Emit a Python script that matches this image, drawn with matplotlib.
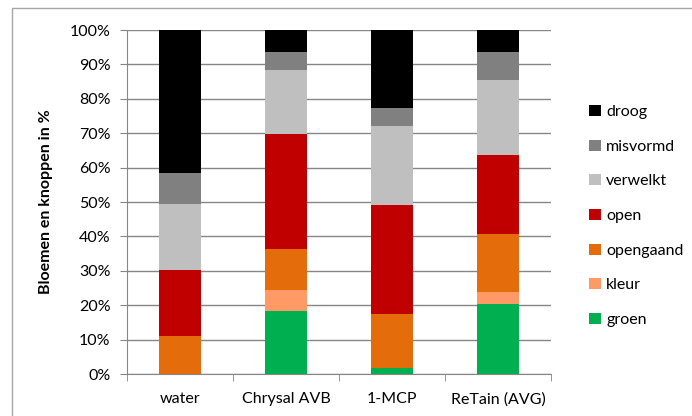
import numpy as np
import matplotlib.pyplot as plt
from matplotlib.patches import Rectangle, Patch

# data (percentage of flowers/buds per stage)
categories = ["water", "Chrysal AVB", "1-MCP", "ReTain (AVG)"]
stages = ["groen", "kleur", "opengaand", "open", "verwelkt", "misvormd", "droog"]
groen = [0.0, 18.2, 1.6, 20.3]
kleur = [0.0, 6.2, 0.0, 3.5]
opengaand = [11.0, 11.9, 15.8, 16.9]
open_ = [19.2, 33.4, 31.6, 23.1]
verwelkt = [19.2, 18.7, 23.1, 21.6]
misvormd = [9.1, 5.1, 5.3, 8.2]
droog = [41.5, 6.5, 22.6, 6.4]
colors = ["#00b050", "#ff9966", "#e46c0a", "#c00000", "#bfbfbf", "#808080", "#000000"]

plt.rcParams['font.family'] = ["Lato", "DejaVu Sans"]
plt.rcParams['font.size'] = 11.5

fig = plt.figure(figsize=(6.92, 4.16), dpi=100)
ax = fig.add_axes([127 / 692, 1 - 374 / 416, 424 / 692, 344 / 416])

series = [groen, kleur, opengaand, open_, verwelkt, misvormd, droog]
x = np.arange(len(categories))
bottom = np.zeros(len(categories))
for vals, col, name in zip(series, colors, stages):
    ax.bar(x, vals, width=0.4, bottom=bottom, color=col, label=name, zorder=3)
    bottom += np.array(vals)

ax.set_xlim(-0.5, 3.5)
ax.set_ylim(0, 100)
ax.set_yticks(np.arange(0, 101, 10))
ax.set_yticklabels(["%d%%" % v for v in range(0, 101, 10)])
ax.yaxis.grid(True, color="#868686", lw=1, zorder=0)
ax.set_xticks(x)
ax.set_xticklabels(categories)
ax.set_xticks(np.arange(-0.5, 4, 1), minor=True)
ax.tick_params(axis="x", which="major", length=0, pad=13)
ax.tick_params(axis="x", which="minor", length=5, color="#868686")
ax.tick_params(axis="y", length=5, color="#868686", pad=7)
for s in ["top", "right"]:
    ax.spines[s].set_visible(False)
for s in ["left", "bottom"]:
    ax.spines[s].set_color("#868686")
ax.set_ylabel("Bloemen en knoppen in %", fontweight="bold")
ax.yaxis.set_label_coords(-0.175, 0.5)

handles = [Patch(facecolor=c, label=n) for c, n in zip(colors, stages)][::-1]
leg = fig.legend(handles=handles, loc="center left",
                 bbox_to_anchor=(575 / 692, 1 - 216 / 416), frameon=False,
                 handlelength=0.7, handleheight=0.7, handletextpad=0.35,
                 labelspacing=1.28, fontsize=11.5)

# outer chart frame
fig.patches.append(Rectangle((12 / 692, -0.1), 1.2, 1 - 8 / 416 + 0.1,
                             transform=fig.transFigure, fill=False,
                             edgecolor="#a6a6a6", lw=1))

fig.savefig("out.png", dpi=100)
